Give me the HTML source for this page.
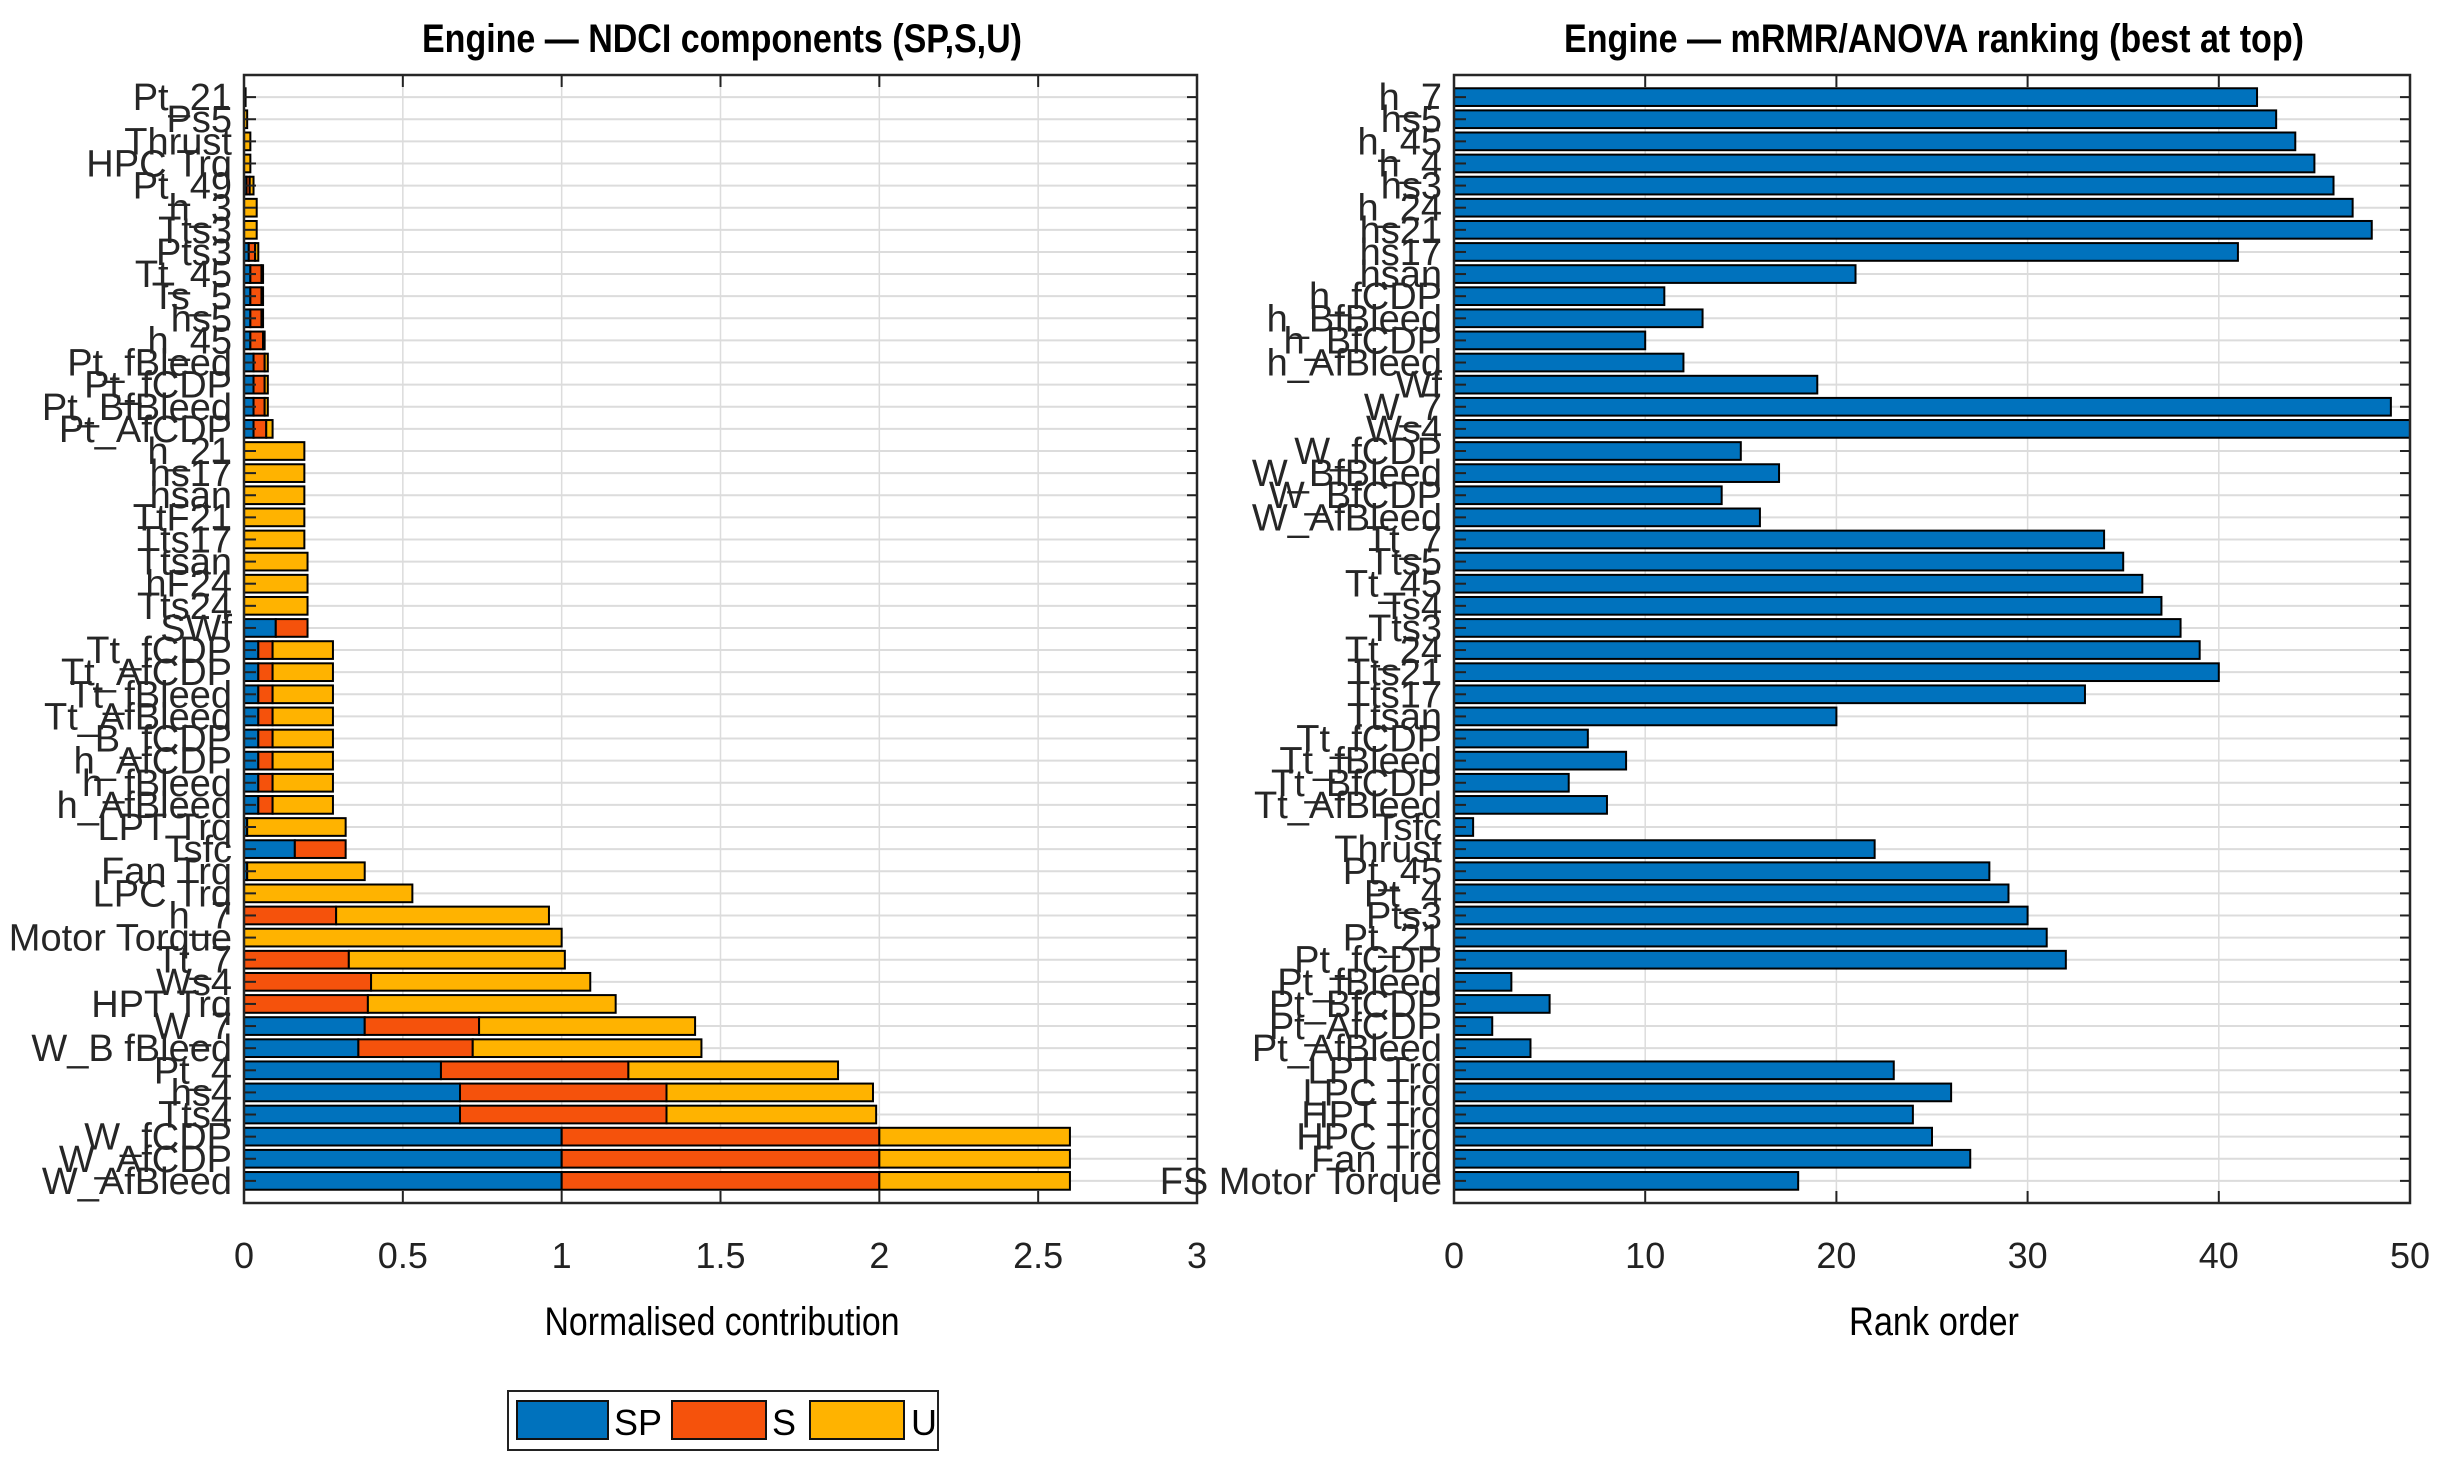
<!DOCTYPE html>
<html><head><meta charset="utf-8"><style>
html,body{margin:0;padding:0;background:#fff;}
svg{display:block;font-family:"Liberation Sans",sans-serif;}
</style></head><body>
<svg id="fig" width="2443" height="1462" viewBox="0 0 2443 1462">
<text x="722" y="52" text-anchor="middle" font-size="40" font-weight="bold" textLength="600" lengthAdjust="spacingAndGlyphs">Engine — NDCI components (SP,S,U)</text>
<text x="1934" y="52" text-anchor="middle" font-size="40" font-weight="bold" textLength="740" lengthAdjust="spacingAndGlyphs">Engine — mRMR/ANOVA ranking (best at top)</text>
<g id="left"></g>
<g id="right"></g>
<text x="722" y="1335" text-anchor="middle" font-size="40" textLength="355" lengthAdjust="spacingAndGlyphs">Normalised contribution</text>
<text x="1934" y="1335" text-anchor="middle" font-size="40" textLength="170" lengthAdjust="spacingAndGlyphs">Rank order</text>
<g>
<rect x="508" y="1391" width="430" height="59" fill="#fff" stroke="#222" stroke-width="2"/>
<g><rect x="517" y="1401" width="91" height="38" fill="#0072BD" stroke="#111" stroke-width="2"/><text x="614" y="1435" font-size="36">SP</text></g>
<g><rect x="672" y="1401" width="94" height="38" fill="#F5520C" stroke="#111" stroke-width="2"/><text x="772" y="1435" font-size="36">S</text></g>
<g><rect x="810" y="1401" width="94" height="38" fill="#FFB300" stroke="#111" stroke-width="2"/><text x="911" y="1435" font-size="36">U</text></g>
</g>
</svg>
<script>
const leftLabels=["Pt_21","Ps5","Thrust","HPC Trq","Pt_49","h_3","Tts3","Pts3","Tt_45","Ts_5","hs5","h_45","Pt_fBleed","Pt_fCDP","Pt_BfBleed","Pt_AfCDP","h_21","hs17","hsan","TtF21","Tts17","Ttsan","hF24","Tts24","SWf","Tt_fCDP","Tt_AfCDP","Tt_fBleed","Tt_AfBleed","B_fCDP","h_AfCDP","h_fBleed","h_AfBleed","LPT Trq","Tsfc","Fan Trq","LPC Trq","h_7","FS Motor Torque","Tt_7","Ws4","HPT Trq","W_7","W_B fBleed","Pt_4","hs4","Tts4","W_fCDP","W_AfCDP","W_AfBleed"];
const spVals=[0,0,0,0,0.008,0,0,0.015,0.02,0.02,0.02,0.02,0.03,0.03,0.03,0.03,0,0,0,0,0,0,0,0,0.1,0.045,0.045,0.045,0.045,0.045,0.045,0.045,0.045,0.01,0.16,0.01,0,0,0,0,0,0,0.38,0.36,0.62,0.68,0.68,1,1,1];
const sVals=[0,0,0,0,0.01,0,0,0.02,0.035,0.035,0.035,0.04,0.035,0.035,0.035,0.04,0,0,0,0,0,0,0,0,0.1,0.045,0.045,0.045,0.045,0.045,0.045,0.045,0.045,0,0.16,0,0,0.29,0,0.33,0.4,0.39,0.36,0.36,0.59,0.65,0.65,1,1,1];
const uVals=[0.005,0.01,0.02,0.02,0.012,0.04,0.04,0.01,0.005,0.005,0.005,0.005,0.01,0.01,0.01,0.02,0.19,0.19,0.19,0.19,0.19,0.2,0.2,0.2,0,0.19,0.19,0.19,0.19,0.19,0.19,0.19,0.19,0.31,0,0.37,0.53,0.67,1.0,0.68,0.69,0.78,0.68,0.72,0.66,0.65,0.66,0.6,0.6,0.6];
const leftTicks=[0,0.5,1,1.5,2,2.5,3];
const leftTickLabels=["0","0.5","1","1.5","2","2.5","3"];
const rightLabels=["h_7","hs5","h_45","h_4","hs3","h_24","hs21","hs17","hsan","h_fCDP","h_BfBleed","h_BfCDP","h_AfBleed","Wf","W_7","Ws4","W_fCDP","W_BfBleed","W_BfCDP","W_AfBleed","Tt_7","Tts5","Tt_45","Ts4","Tts3","Tt_24","Tts21","Tts17","Ttsan","Tt_fCDP","Tt_fBleed","Tt_BfCDP","Tt_AfBleed","Tsfc","Thrust","Pt_45","Pt_4","Pts3","Pt_21","Pt_fCDP","Pt_fBleed","Pt_BfCDP","Pt_AfCDP","Pt_AfBleed","LPT Trq","LPC Trq","HPT Trq","HPC Trq","Fan Trq","FS Motor Torque"];
const rankVals=[42,43,44,45,46,47,48,41,21,11,13,10,12,19,49,50,15,17,14,16,34,35,36,37,38,39,40,33,20,7,9,6,8,1,22,28,29,30,31,32,3,5,2,4,23,26,24,25,27,18];
const rightTicks=[0,10,20,30,40,50];
const rightTickLabels=["0","10","20","30","40","50"];

const NS="http://www.w3.org/2000/svg";
function mk(parent,tag,attrs){const e=document.createElementNS(NS,tag);for(const k in attrs)e.setAttribute(k,attrs[k]);parent.appendChild(e);return e;}
const axTop=75,axBot=1203,nRows=51;
function yScale(i){return axTop+(i+1)*(axBot-axTop)/nRows;}
const slot=(axBot-axTop)/nRows, bh=slot*0.8;

function axes(g,x0,x1,xmax,ticks,tickLabels,labels,name){
  const xs=v=>x0+v/xmax*(x1-x0);
  mk(g,'rect',{x:x0,y:axTop,width:x1-x0,height:axBot-axTop,fill:'#fff'});
  ticks.forEach((t,i)=>{
    const l=mk(g,'line',{x1:xs(t),x2:xs(t),y1:axTop,y2:axBot,stroke:'#dcdcdc','stroke-width':1.5});
    
    
    mk(g,'line',{x1:xs(t),x2:xs(t),y1:axBot,y2:axBot-12,stroke:'#222','stroke-width':2});
    mk(g,'line',{x1:xs(t),x2:xs(t),y1:axTop,y2:axTop+12,stroke:'#222','stroke-width':2});
    const tx=mk(g,'text',{x:xs(t),y:1268,'text-anchor':'middle','font-size':36,fill:'#222'});
    tx.textContent=tickLabels[i];
    
    
  });
  labels.forEach((lab,i)=>{
    const y=yScale(i);
    const l=mk(g,'line',{x1:x0,x2:x1,y1:y,y2:y,stroke:'#dcdcdc','stroke-width':2});
    
    
    mk(g,'line',{x1:x1,x2:x1-10,y1:y,y2:y,stroke:'#222','stroke-width':2});
    const tx=mk(g,'text',{x:x0-12,y:y+13,'text-anchor':'end','font-size':38,fill:'#262626'});
    tx.textContent=lab;
    
    
  });
  return xs;
}
function frame(g,x0,x1){mk(g,'rect',{x:x0,y:axTop,width:x1-x0,height:axBot-axTop,fill:'none',stroke:'#262626','stroke-width':2.5});}

const L=document.getElementById('left');
const lx0=244,lx1=1197;
const lxs=axes(L,lx0,lx1,3,leftTicks,leftTickLabels,leftLabels,'left');
leftLabels.forEach((lab,i)=>{
  const y=yScale(i)-bh/2;
  let acc=0;
  [[spVals,'#0072BD','sp'],[sVals,'#F5520C','s'],[uVals,'#FFB300','u']].forEach(([arr,col,nm])=>{
    const v=arr[i];
    if(v>0){
      const r=mk(L,'rect',{x:lxs(acc),y:y,width:lxs(acc+v)-lxs(acc),height:bh,fill:col,stroke:'#000','stroke-width':2});
      
      
    }
    acc+=v;
  });
  mk(L,'line',{x1:lx0,x2:lx0+12,y1:yScale(i),y2:yScale(i),stroke:'#222','stroke-width':2});
});
frame(L,lx0,lx1);

const R=document.getElementById('right');
const rx0=1454,rx1=2410;
const rxs=axes(R,rx0,rx1,50,rightTicks,rightTickLabels,rightLabels,'right');
rankVals.forEach((v,i)=>{
  const r=mk(R,'rect',{x:rxs(0),y:yScale(i)-bh/2,width:rxs(v)-rxs(0),height:bh,fill:'#0072BD',stroke:'#000','stroke-width':2});
  
  
  mk(R,'line',{x1:rx0,x2:rx0+12,y1:yScale(i),y2:yScale(i),stroke:'#222','stroke-width':2});
});
frame(R,rx0,rx1);
</script>
</body></html>
